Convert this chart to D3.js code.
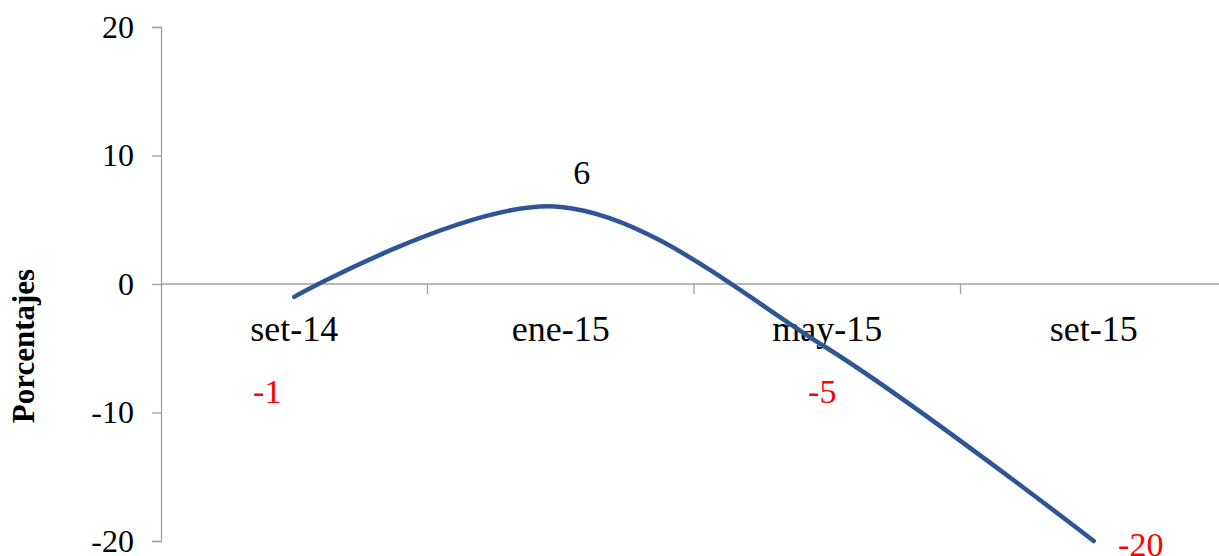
<!DOCTYPE html>
<html>
<head>
<meta charset="utf-8">
<script src="https://cdn.jsdelivr.net/npm/d3@7"></script>
<style>
  body { margin: 0; background: #fff; }
  svg text { font-family: "Liberation Serif", "Times New Roman", serif; }
</style>
</head>
<body>
<svg width="1219" height="556"></svg>
<script>
var categories = ["set-14", "ene-15", "may-15", "set-15"];
var values = [-1, 6, -5, -20];
var yTicks = [-20, -10, 0, 10, 20];
// manual data-label offsets (px from the point to the label baseline), as placed in the original
var labelDx = [-27, 21, -5, 47];
var labelDy = [106, -23, 55, 15];
var labelColors = ["#ff0000", "#000000", "#ff0000", "#ff0000"];

var serif = "Liberation Serif, Times New Roman, serif";

var svg = d3.select("svg"),
    plotLeft = 161,
    plotTop = 27,
    plotBottom = 541,
    bandW = 266.5;

var x = d3.scaleBand()
    .domain(categories)
    .range([plotLeft, plotLeft + bandW * categories.length]);

var y = d3.scaleLinear()
    .domain([-20, 20])
    .range([plotBottom, plotTop]);

var g = svg.append("g");

// y axis
var yAxis = g.append("g")
    .attr("transform", "translate(" + plotLeft + ",0)")
    .call(d3.axisLeft(y).tickValues(yTicks).tickSize(9).tickPadding(18)
        .tickFormat(function(d) { return String(d); }));
yAxis.attr("font-family", serif);
yAxis.select(".domain").attr("stroke", "#a0a0a0").attr("stroke-width", 1.3);
yAxis.selectAll(".tick line").attr("stroke", "#a0a0a0").attr("stroke-width", 1.3);
yAxis.selectAll(".tick text")
    .attr("font-size", 32)
    .attr("font-family", serif)
    .attr("fill", "#000");

// horizontal axis at zero
var x0 = y(0);
g.append("line")
    .attr("x1", plotLeft).attr("x2", 1219)
    .attr("y1", x0).attr("y2", x0)
    .attr("stroke", "#a0a0a0").attr("stroke-width", 1.3);

g.selectAll(".xtick")
    .data(categories.slice(1))
    .enter().append("line")
    .attr("class", "xtick")
    .attr("x1", function(d) { return x(d); })
    .attr("x2", function(d) { return x(d); })
    .attr("y1", x0).attr("y2", x0 + 10)
    .attr("stroke", "#a0a0a0").attr("stroke-width", 1.3);

g.selectAll(".xlabel")
    .data(categories)
    .enter().append("text")
    .attr("class", "xlabel")
    .attr("x", function(d) { return x(d) + x.bandwidth() / 2; })
    .attr("y", x0 + 57)
    .attr("text-anchor", "middle")
    .attr("font-family", serif)
    .attr("font-size", 36)
    .text(function(d) { return d; });

// axis title
svg.append("text")
    .attr("transform", "translate(34,346) rotate(-90)")
    .attr("text-anchor", "middle")
    .attr("font-family", serif)
    .attr("font-size", 31)
    .attr("font-weight", "bold")
    .text("Porcentajes");

// line
var line = d3.line()
    .x(function(d, i) { return x(categories[i]) + x.bandwidth() / 2; })
    .y(function(d) { return y(d); })
    .curve(d3.curveCardinal.tension(0));

g.append("path")
    .datum(values)
    .attr("fill", "none")
    .attr("stroke", "#2f5597")
    .attr("stroke-width", 4.5)
    .attr("stroke-linecap", "round")
    .attr("d", line);

// data labels
g.selectAll(".dlabel")
    .data(values)
    .enter().append("text")
    .attr("class", "dlabel")
    .attr("x", function(d, i) { return x(categories[i]) + x.bandwidth() / 2 + labelDx[i]; })
    .attr("y", function(d, i) { return y(d) + labelDy[i]; })
    .attr("text-anchor", "middle")
    .attr("font-family", serif)
    .attr("font-size", 34)
    .attr("fill", function(d, i) { return labelColors[i]; })
    .text(function(d) { return d; });
</script>
</body>
</html>
